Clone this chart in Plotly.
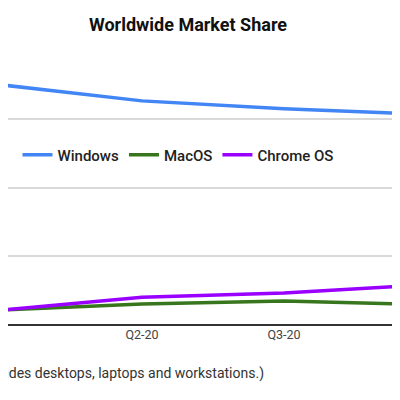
import plotly.graph_objects as go

quarters = ["Q1-20", "Q2-20", "Q3-20", "Q4-20"]
windows = [69.9, 65.2, 62.9, 61.3]
macos = [4.3, 6.1, 7.0, 5.9]
chrome_os = [4.3, 8.1, 9.3, 11.7]

xs = list(range(len(quarters)))
fig = go.Figure()
fig.add_trace(go.Scatter(x=xs, y=windows, name="Windows", mode="lines",
                         line=dict(color="#4285F4", width=3.5)))
fig.add_trace(go.Scatter(x=xs, y=macos, name="MacOS", mode="lines",
                         line=dict(color="#38761D", width=3.5)))
fig.add_trace(go.Scatter(x=xs, y=chrome_os, name="Chrome OS", mode="lines",
                         line=dict(color="#9900FF", width=3.5)))

# page body adds ~8px offset; compensate
fig.update_layout(
    width=400, height=400,
    margin=dict(l=0, r=0, t=42, b=83),
    paper_bgcolor="white", plot_bgcolor="white",
    font=dict(family="Roboto", color="#222"),
    title=dict(text="<b>Worldwide Market Share</b>", x=0.45, xanchor="center",
               y=0.9575, yanchor="middle", font=dict(size=18, color="#111")),
    legend=dict(orientation="h", x=0.425, xanchor="center", y=0.618, yanchor="middle",
                font=dict(size=15, color="#222", weight=500), bgcolor="rgba(0,0,0,0)"),
    showlegend=True,
)
fig.update_xaxes(tickvals=xs, ticktext=quarters, range=[8 / 142, 408 / 142],
                 showgrid=False, zeroline=False, showline=False,
                 tickfont=dict(size=12.5, color="#444"), ticks="")
fig.update_yaxes(range=[0, 80], dtick=20, showticklabels=False,
                 gridcolor="#d9d9d9", gridwidth=1.5, zeroline=True,
                 zerolinecolor="#333", zerolinewidth=1.5)
fig.add_annotation(text="(Includes desktops, laptops and workstations.)",
                   xref="paper", yref="paper", x=0.645, y=-0.175,
                   xanchor="right", yanchor="middle", showarrow=False,
                   font=dict(size=14, color="#333"))

fig.write_html("out.html")
